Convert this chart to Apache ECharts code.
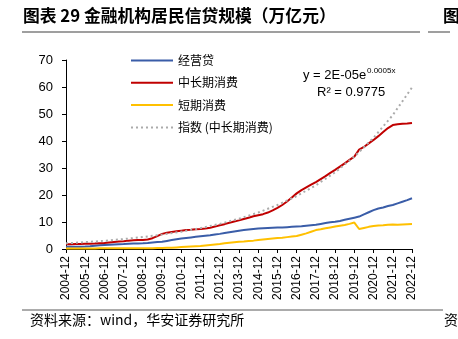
<!DOCTYPE html>
<html>
<head>
<meta charset="utf-8">
<script src="https://cdn.jsdelivr.net/npm/echarts@6/dist/echarts.min.js"></script>
<style>
html,body{margin:0;padding:0;background:#fff;}
#c{width:458px;height:339px;}
</style>
</head>
<body>
<div id="c"></div>
<script>
// Quarterly categories 2004-12 ... 2022-12
var categories = ['2004-12'];
for (var y = 2005; y <= 2022; y++) {
  ['03','06','09','12'].forEach(function(m){ categories.push(y + '-' + m); });
}

var seriesNames = ['经营贷', '中长期消费', '短期消费', '指数 (中长期消费)'];

// 经营贷 (quarterly)
var businessLoans = [0.8,
  0.8,0.8,0.85,0.9, 1.0,1.2,1.35,1.5, 1.6,1.7,1.8,1.85, 1.95,2.0,2.05,2.1,
  2.2,2.4,2.55,2.7, 3.0,3.3,3.6,3.9, 4.1,4.3,4.5,4.7, 4.9,5.1,5.4,5.6,
  5.9,6.2,6.5,6.8, 7.0,7.2,7.4,7.6, 7.7,7.8,7.9,8.0, 8.0,8.1,8.2,8.3,
  8.4,8.6,8.8,9.0, 9.3,9.6,9.9,10.1, 10.4,10.8,11.2,11.6, 12.0,12.8,13.6,14.4,
  15.0,15.4,15.9,16.3, 16.9,17.5,18.1,18.8];

// 中长期消费 (quarterly)
var longTermConsumer = [1.8,
  1.8,1.85,1.85,1.9, 1.95,2.0,2.1,2.2, 2.4,2.6,2.8,2.9, 3.1,3.2,3.3,3.3,
  3.5,4.0,4.8,5.6, 6.0,6.3,6.6,6.8, 7.0,7.1,7.3,7.4, 7.6,7.9,8.3,8.8,
  9.2,9.7,10.2,10.6, 11.1,11.6,12.1,12.5, 12.9,13.5,14.3,15.2, 16.3,17.6,19.1,20.6,
  21.8,22.8,23.8,24.8, 25.9,27.0,28.2,29.3, 30.5,31.7,33.0,34.2, 36.8,37.8,39.1,40.4,
  41.8,43.3,44.8,45.9, 46.2,46.4,46.5,46.7];

// 短期消费 (quarterly)
var shortTermConsumer = [0.2,
  0.2,0.2,0.2,0.2, 0.2,0.2,0.25,0.25, 0.25,0.3,0.3,0.3, 0.3,0.3,0.3,0.3,
  0.3,0.3,0.35,0.4, 0.45,0.5,0.6,0.7, 0.8,0.9,1.0,1.1, 1.3,1.5,1.7,1.85,
  2.1,2.3,2.5,2.7, 2.8,3.0,3.1,3.3, 3.5,3.7,3.9,4.1, 4.2,4.4,4.6,4.8,
  5.3,5.8,6.4,7.0, 7.3,7.7,8.0,8.3, 8.6,8.9,9.3,9.8, 7.4,7.8,8.2,8.5,
  8.7,8.8,9.0,9.1, 9.0,9.1,9.2,9.3];

// 指数趋势线 (read at each December)
var trendYearly = [2.1, 2.53, 3.05, 3.67, 4.42, 5.33, 6.42, 7.73, 9.31, 11.2,
  13.5, 16.3, 19.6, 23.6, 28.4, 34.2, 41.2, 49.6, 59.8];

var yTicks = {min: 0, max: 70, interval: 10};

var trendData = categories.map(function(c, i){
  return (i % 4 === 0) ? trendYearly[i / 4] : null;
});

var chart = echarts.init(document.getElementById('c'), null, {renderer: 'canvas'});
var cjk = '"Noto Sans CJK SC", sans-serif';
var lat = '"Liberation Sans", Arial, sans-serif';

chart.setOption({
  animation: false,
  backgroundColor: '#ffffff',
  title: {
    text: '图表 29 金融机构居民信贷规模（万亿元）',
    left: 18, top: 2,
    textStyle: {fontFamily: cjk, fontSize: 16.8, fontWeight: 'bold', color: '#000'}
  },
  grid: {left: 66, right: 46, top: 60, bottom: 90, containLabel: false},
  legend: {
    orient: 'vertical', left: 125, top: 48.5,
    itemWidth: 42, itemHeight: 14, itemGap: 8.3,
    itemStyle: {opacity: 0},
    textStyle: {fontFamily: cjk, fontSize: 12, color: '#000', lineHeight: 14},
    data: seriesNames
  },
  xAxis: {
    type: 'category', data: categories, boundaryGap: false,
    axisLine: {lineStyle: {color: '#000', width: 1}},
    axisTick: {interval: 3, length: 4, lineStyle: {color: '#000'}},
    axisLabel: {interval: 3, rotate: 90, fontFamily: lat, fontSize: 12, color: '#000', margin: 7}
  },
  yAxis: {
    type: 'value', min: yTicks.min, max: yTicks.max, interval: yTicks.interval,
    splitLine: {show: false},
    axisLine: {show: true, lineStyle: {color: '#000', width: 1}},
    axisTick: {show: true, length: 4, lineStyle: {color: '#000'}},
    axisLabel: {fontFamily: lat, fontSize: 13, color: '#000', margin: 13}
  },
  series: [
    {name: seriesNames[0], type: 'line', data: businessLoans, symbol: 'none',
     lineStyle: {color: '#3A5DA8', width: 2}, itemStyle: {color: '#3A5DA8'}, z: 2},
    {name: seriesNames[1], type: 'line', data: longTermConsumer, symbol: 'none',
     lineStyle: {color: '#C00000', width: 2}, itemStyle: {color: '#C00000'}, z: 2},
    {name: seriesNames[2], type: 'line', data: shortTermConsumer, symbol: 'none',
     lineStyle: {color: '#FFC000', width: 2}, itemStyle: {color: '#FFC000'}, z: 2},
    {name: seriesNames[3], type: 'line', data: trendData, symbol: 'none', connectNulls: true,
     lineStyle: {color: '#ABABAB', width: 2, type: [2, 3]}, itemStyle: {color: '#ABABAB'}, z: 3}
  ],
  graphic: [
    {type: 'text', x: 443, y: 7, style: {text: '图', font: 'bold 16.8px ' + cjk, fill: '#000'}},
    {type: 'line', shape: {x1: 22, y1: 32, x2: 420, y2: 32}, style: {stroke: '#7F7F7F', lineWidth: 1.5}},
    {type: 'line', shape: {x1: 428, y1: 32, x2: 450, y2: 32}, style: {stroke: '#7F7F7F', lineWidth: 1.5}},
    {type: 'line', shape: {x1: 22, y1: 310, x2: 443, y2: 310}, style: {stroke: '#595959', lineWidth: 1}},
    {type: 'text', x: 30, y: 313, style: {text: '资料来源：', font: '14px ' + cjk, fill: '#000'}},
    {type: 'text', x: 100, y: 313, style: {text: 'wind，华安证券研究所', font: '14px ' + cjk, fill: '#000'}},
    {type: 'text', x: 444, y: 313, style: {text: '资', font: '14px ' + cjk, fill: '#000'}},
    {type: 'text', x: 303, y: 69, style: {text: 'y = 2E-05e', font: '13px ' + lat, fill: '#000'}},
    {type: 'text', x: 367, y: 67, style: {text: '0.0005x', font: '8px ' + lat, fill: '#000'}},
    {type: 'text', x: 317, y: 86, style: {text: 'R² = 0.9775', font: '13px ' + lat, fill: '#000'}}
  ]
});
</script>
</body>
</html>
